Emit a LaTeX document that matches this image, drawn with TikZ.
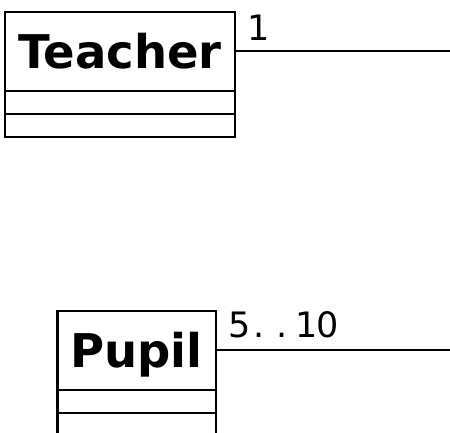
\documentclass[tikz,border=0pt]{standalone}
\usepackage{fontspec}
\setmainfont{DejaVu Sans}
\usetikzlibrary{positioning}
\newcommand{\cch}[1]{\makebox[0pt][c]{#1}}
\tikzset{
  classbox/.style={draw=black, line width=2.6pt, minimum width=#1, inner sep=0pt, outer sep=0pt, anchor=north west},
  classname/.style={font=\fontsize{46.5}{46.5}\selectfont\bfseries, text height=34pt, text depth=0pt},
  assoc/.style={draw=black, line width=2.6pt},
  mult/.style={font=\fontsize{35}{35}\selectfont, anchor=base west, inner sep=0pt}
}
\begin{document}
\begin{tikzpicture}[x=1pt, y=-1pt]
\useasboundingbox (0,0) rectangle (450,432);
% Teacher
\node[classbox=230pt, classname, minimum height=79pt] (teacher) at (5,12) {Teacher};
\node[classbox=230pt, minimum height=23pt] (teacherattr) at (teacher.south west) {};
\node[classbox=230pt, minimum height=23pt] (teacherops) at (teacherattr.south west) {};
% Pupil
\node[classbox=158.5pt, classname, minimum height=79pt] (pupil) at (57.3,311) {Pupil};
\node[classbox=158.5pt, minimum height=23pt] (pupilattr) at (pupil.south west) {};
\node[classbox=158.5pt, minimum height=23pt] (pupilops) at (pupilattr.south west) {};
% association ends
\coordinate (tend) at (452,51);
\coordinate (pend) at (452,350);
\draw[assoc] (teacher.east |- tend) -- (tend);
\draw[assoc] (pupil.east |- pend) -- (pend);
\node[mult] (tmult) at (258.3,40) {\cch{1}};
\node[mult] (pmult) at (239.3,337) {\cch{5}\hspace{19.9pt}\cch{.}\hspace{22.6pt}\cch{.}\hspace{24.7pt}\cch{1}\hspace{21.3pt}\cch{0}};
\end{tikzpicture}
\end{document}
